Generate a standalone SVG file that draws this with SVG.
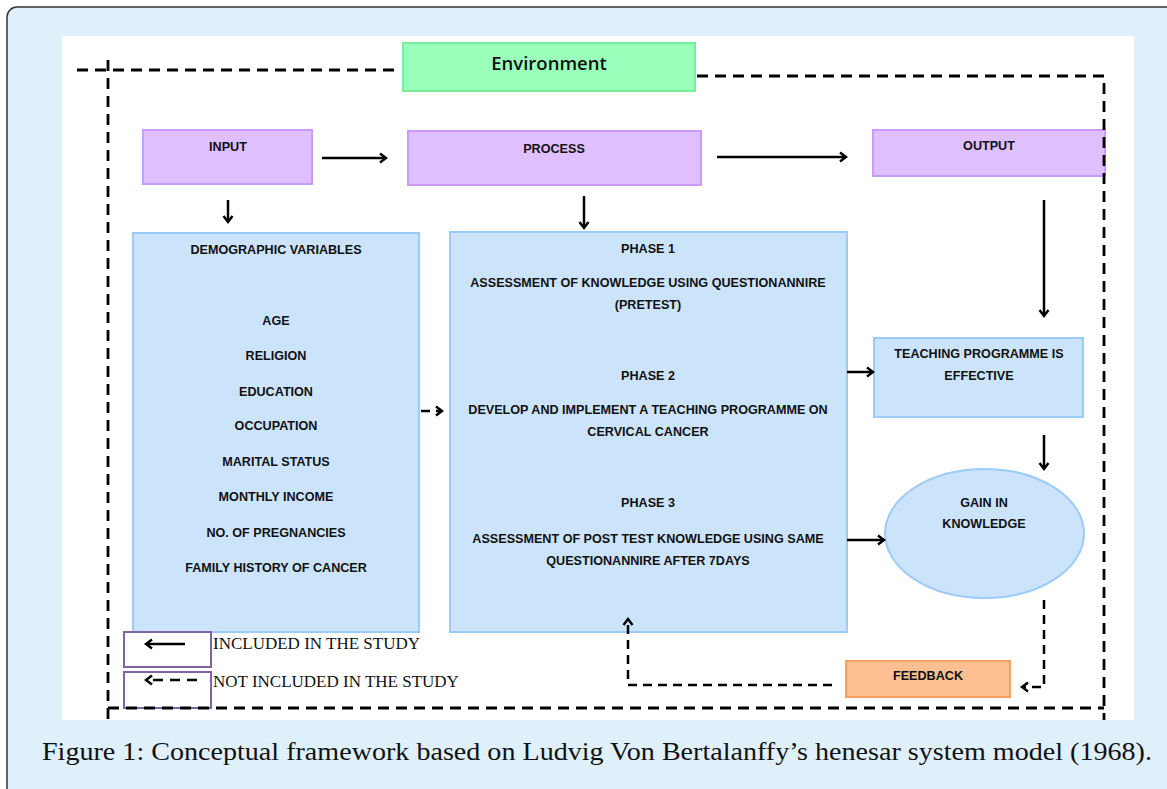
<svg xmlns="http://www.w3.org/2000/svg" width="1167" height="789" viewBox="0 0 1167 789">
<defs>
<marker id="ah" markerWidth="12" markerHeight="12" refX="9" refY="6" orient="auto" markerUnits="userSpaceOnUse">
<path d="M3,1.5 L9,6 L3,10.5" fill="none" stroke="#000" stroke-width="2.4"/>
</marker>
</defs>
<style>
.t{font-family:"Liberation Sans",Arial,sans-serif;font-weight:bold;font-size:12.6px;fill:#111;text-anchor:middle}
.purple{fill:#dfbfff;stroke:#cc99ff;stroke-width:2}
.blue{fill:#cce4fb;stroke:#9dcbf7;stroke-width:2}
.env{fill:none;stroke:#000;stroke-width:2.8;stroke-dasharray:11,7}
.arr{fill:none;stroke:#000;stroke-width:2.5;marker-end:url(#ah)}
.darr{fill:none;stroke:#000;stroke-width:2.5;stroke-dasharray:9,6;marker-end:url(#ah)}
.leg{font-family:"Liberation Serif","Times New Roman",serif;font-size:17px;fill:#111}
</style>
<rect x="7" y="7" width="1175" height="800" rx="10" fill="#dff0fb" stroke="#333" stroke-width="1.5"/>
<rect x="62" y="36" width="1072" height="684" fill="#fff"/>

<g id="environment">
<rect x="403" y="43" width="292" height="48" fill="#99ffbb" stroke="#77ee99" stroke-width="2"/>
<text x="549" y="70" style="font-family:'Open Sans','Liberation Sans',sans-serif;font-size:18.5px;font-weight:600;fill:#111;text-anchor:middle">Environment</text>
</g>

<g id="input">
<rect class="purple" x="143" y="130" width="169" height="54"/>
<text class="t" x="228" y="151">INPUT</text>
</g>
<g id="process">
<rect class="purple" x="408" y="131" width="293" height="54"/>
<text class="t" x="554" y="153">PROCESS</text>
</g>
<g id="output">
<rect class="purple" x="873" y="130" width="232" height="46"/>
<text class="t" x="989" y="150">OUTPUT</text>
</g>

<g id="demographic">
<rect class="blue" x="133" y="233" width="286" height="399"/>
<text class="t" x="276" y="254">DEMOGRAPHIC VARIABLES</text>
<text class="t" x="276" y="325">AGE</text>
<text class="t" x="276" y="360">RELIGION</text>
<text class="t" x="276" y="396">EDUCATION</text>
<text class="t" x="276" y="430">OCCUPATION</text>
<text class="t" x="276" y="466">MARITAL STATUS</text>
<text class="t" x="276" y="501">MONTHLY INCOME</text>
<text class="t" x="276" y="537">NO. OF PREGNANCIES</text>
<text class="t" x="276" y="572">FAMILY HISTORY OF CANCER</text>
</g>

<g id="phases">
<rect class="blue" x="450" y="232" width="397" height="400"/>
<text class="t" x="648" y="253">PHASE 1</text>
<text class="t" x="648" y="287">ASSESSMENT OF KNOWLEDGE USING QUESTIONANNIRE</text>
<text class="t" x="648" y="309">(PRETEST)</text>
<text class="t" x="648" y="380">PHASE 2</text>
<text class="t" x="648" y="414">DEVELOP AND IMPLEMENT A TEACHING PROGRAMME ON</text>
<text class="t" x="648" y="436">CERVICAL CANCER</text>
<text class="t" x="648" y="507">PHASE 3</text>
<text class="t" x="648" y="543">ASSESSMENT OF POST TEST KNOWLEDGE USING SAME</text>
<text class="t" x="648" y="565">QUESTIONANNIRE AFTER 7DAYS</text>
</g>

<g id="teaching">
<rect class="blue" x="874" y="338" width="209" height="79"/>
<text class="t" x="979" y="358">TEACHING PROGRAMME IS</text>
<text class="t" x="979" y="380">EFFECTIVE</text>
</g>

<g id="gain">
<ellipse class="blue" cx="984.5" cy="533.5" rx="99.5" ry="64.5"/>
<text class="t" x="984" y="507">GAIN IN</text>
<text class="t" x="984" y="528">KNOWLEDGE</text>
</g>

<g id="feedback">
<rect x="846" y="661" width="164" height="36" fill="#fbbf91" stroke="#f8a060" stroke-width="2"/>
<text class="t" x="928" y="680">FEEDBACK</text>
</g>

<g id="legend">
<rect x="124" y="632" width="87" height="35" fill="#fff" stroke="#8064a2" stroke-width="2"/>
<rect x="124" y="672" width="87" height="36" fill="#fff" stroke="#8064a2" stroke-width="2"/>
<path class="arr" d="M185,644 H146"/>
<path fill="none" stroke="#000" stroke-width="2.5" stroke-dasharray="10,7" marker-end="url(#ah)" d="M197,680 H146"/>
<text class="leg" x="213" y="649">INCLUDED IN THE STUDY</text>
<text class="leg" x="213" y="687">NOT INCLUDED IN THE STUDY</text>
</g>

<g id="connectors">
<path class="arr" d="M322,158 H386"/>
<path class="arr" d="M717,157 H846"/>
<path class="arr" d="M228,200 V222"/>
<path class="arr" d="M584,196 V228"/>
<path class="arr" d="M1044,200 V316"/>
<path class="darr" d="M421,411 H442"/>
<path class="arr" d="M847,372 H873"/>
<path class="arr" d="M847,540 H884"/>
<path class="arr" d="M1044,435 V469"/>
<path class="darr" d="M1044,600 V687 H1022"/>
<path class="darr" d="M832,685 H628 V619"/>
</g>

<g id="environment-boundary">
<path class="env" d="M77,70 H398"/>
<path class="env" d="M108,60 V720"/>
<path class="env" d="M697,76 H1104 V720"/>
<path class="env" d="M108,708 H1104"/>
</g>

<text x="42" y="760" textLength="1110" lengthAdjust="spacingAndGlyphs" style="font-family:'Liberation Serif','Times New Roman',serif;font-size:25px;fill:#111">Figure 1: Conceptual framework based on Ludvig Von Bertalanffy’s henesar system model (1968).</text>
</svg>
